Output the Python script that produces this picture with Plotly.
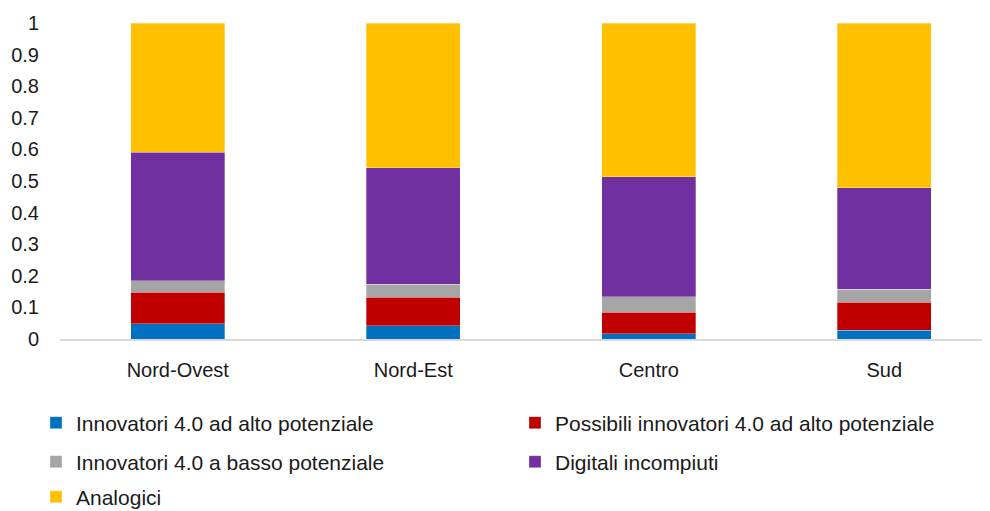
import plotly.graph_objects as go

regions = ["Nord-Ovest", "Nord-Est", "Centro", "Sud"]
series_names = [
    "Innovatori 4.0 ad alto potenziale",
    "Possibili innovatori 4.0 ad alto potenziale",
    "Innovatori 4.0 a basso potenziale",
    "Digitali incompiuti",
    "Analogici",
]
innovatori_alto = [0.049, 0.042, 0.016, 0.028]
possibili_innovatori = [0.099, 0.090, 0.068, 0.089]
innovatori_basso = [0.037, 0.042, 0.049, 0.041]
digitali_incompiuti = [0.406, 0.368, 0.380, 0.321]
analogici = [0.409, 0.458, 0.487, 0.521]
y_ticks = [0, 0.1, 0.2, 0.3, 0.4, 0.5, 0.6, 0.7, 0.8, 0.9, 1]
y_tick_text = ["0", "0.1", "0.2", "0.3", "0.4", "0.5", "0.6", "0.7", "0.8", "0.9", "1"]

colors = ["#0070C0", "#C00000", "#A5A5A5", "#7030A0", "#FFC000"]
values = [innovatori_alto, possibili_innovatori, innovatori_basso, digitali_incompiuti, analogici]
legend_ids = ["legend", "legend2", "legend3", "legend4", "legend5"]

FONT = "Liberation Sans, Arial, Helvetica, sans-serif"
TXT = "#1a1a1a"
FS = 20
LFS = 21

fig = go.Figure()
for name, vals, col, lg in zip(series_names, values, colors, legend_ids):
    fig.add_trace(go.Bar(
        x=regions, y=vals, name=name, legend=lg,
        marker=dict(color=col, line=dict(width=0.6, color="rgba(255,255,255,0.5)")),
    ))

OFF = 8  # page body margin
W, H = 990 - OFF, 511 - OFF
ml, mr, mt, mb = 60 - OFF, 0, 23 - OFF, 172
PW, PH = W - ml - mr, H - mt - mb

def leg(x_px, y_px):
    # x_px, y_px in screen pixels
    return dict(
        orientation="h", x=(x_px - OFF - ml) / PW, xanchor="left",
        y=1 - (y_px - OFF - mt) / PH, yanchor="middle", yref="paper",
        font=dict(family=FONT, size=LFS, color=TXT),
        bgcolor="rgba(0,0,0,0)", borderwidth=0,
        itemclick=False, itemdoubleclick=False,
    )

fig.update_layout(
    width=W, height=H,
    margin=dict(l=ml, r=mr, t=mt, b=mb, autoexpand=False),
    barmode="stack", bargap=0.6,
    paper_bgcolor="white", plot_bgcolor="white",
    font=dict(family=FONT, size=FS, color=TXT),
    showlegend=True,
    legend=leg(36, 423),
    legend2=leg(515, 423),
    legend3=leg(36, 462),
    legend4=leg(515, 462),
    legend5=leg(36, 497),
    xaxis=dict(
        range=[-0.5, 3.449], showgrid=False, showline=True, linecolor="#d9d9d9", linewidth=1.5,
        ticks="", ticklabelstandoff=12, tickfont=dict(family=FONT, size=FS, color=TXT),
    ),
    yaxis=dict(
        range=[0, 1], tickvals=y_ticks, ticktext=y_tick_text, showgrid=False, zeroline=False,
        showline=False, ticks="", ticklabelstandoff=20,
        tickfont=dict(family=FONT, size=FS, color=TXT),
    ),
)

fig.write_html("out.html")
